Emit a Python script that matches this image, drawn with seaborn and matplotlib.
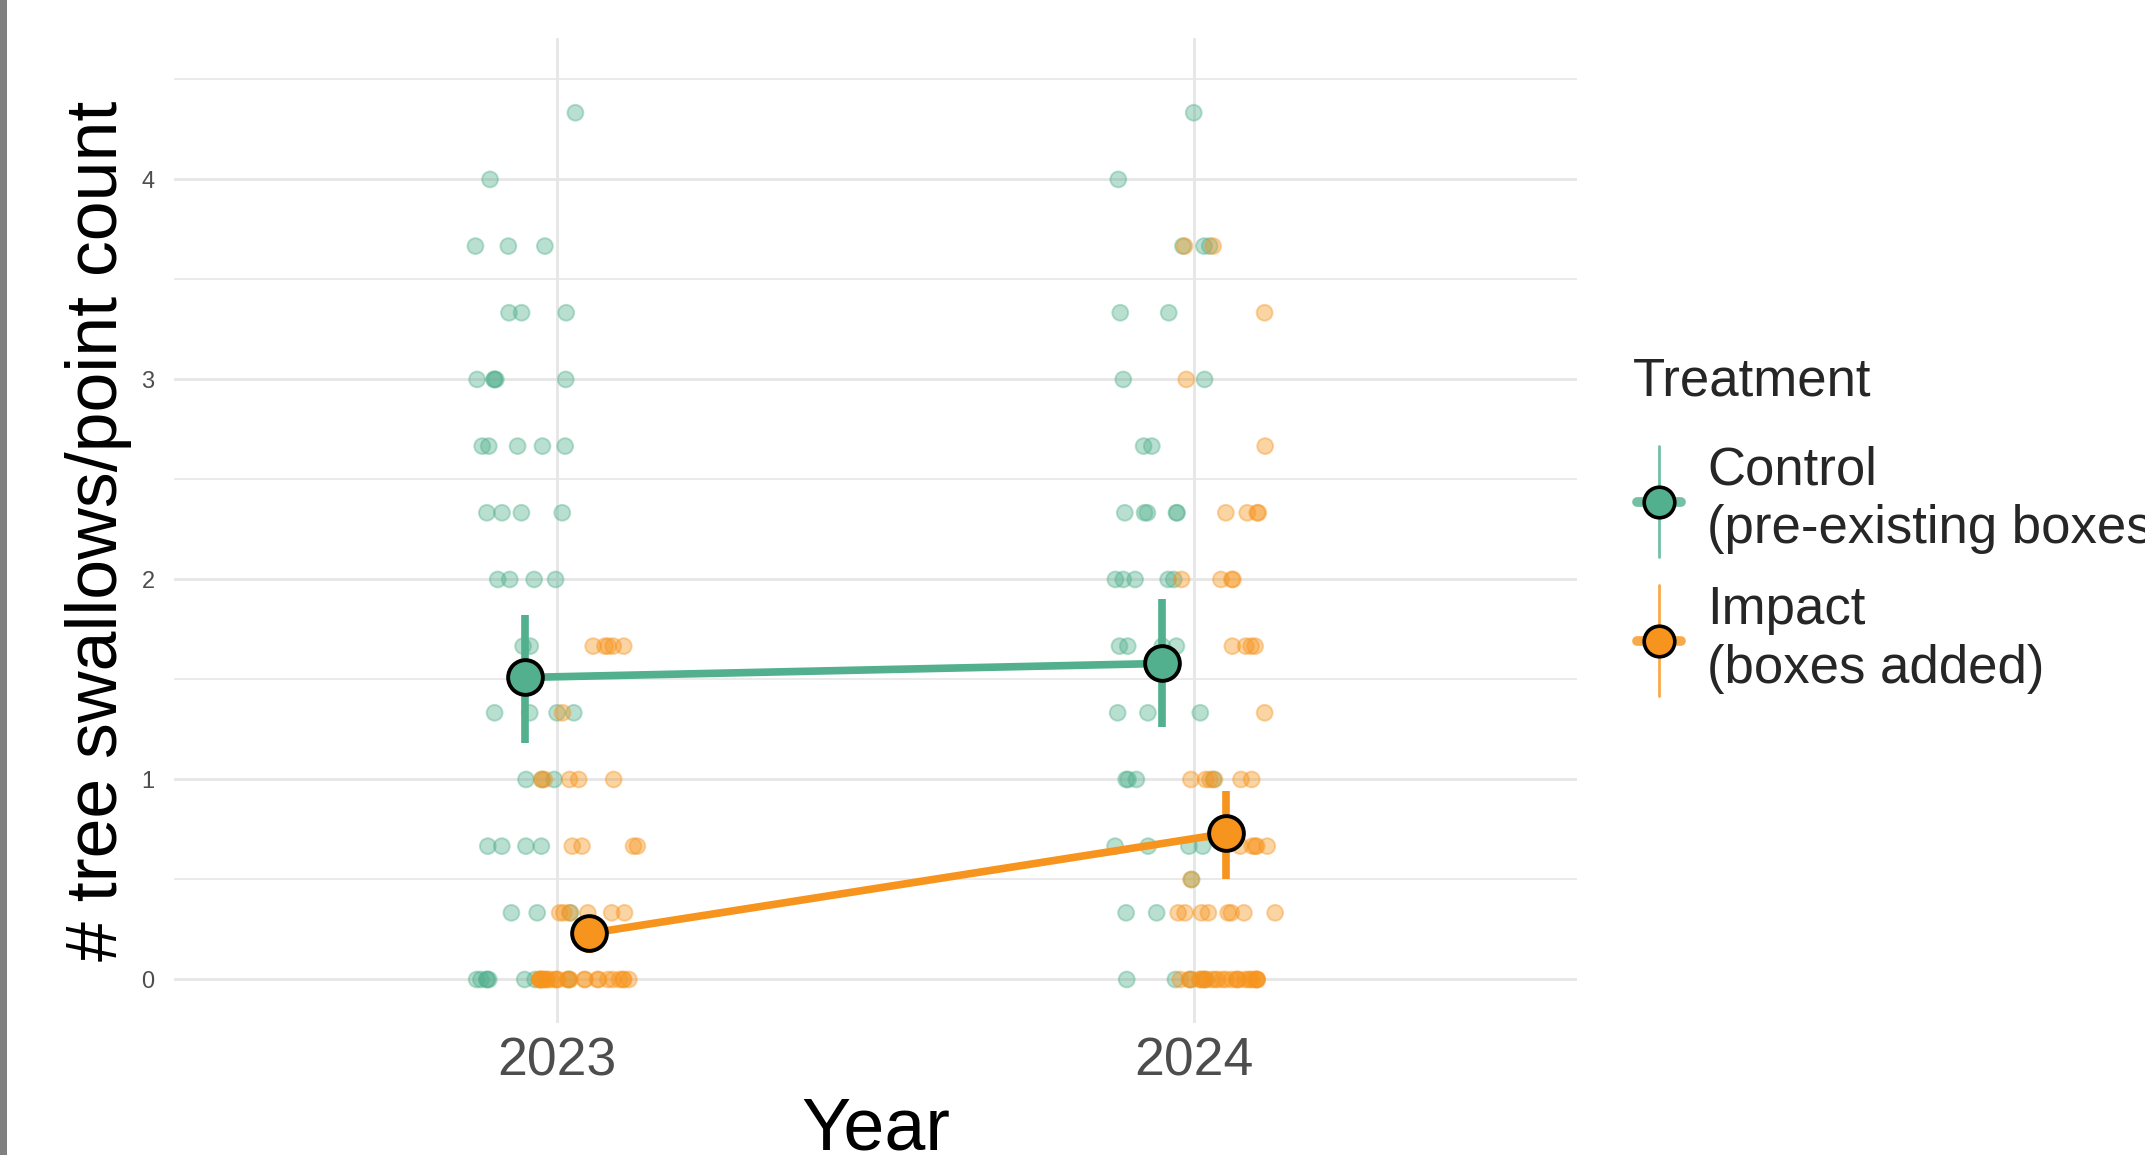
import numpy as np
import pandas as pd
import matplotlib
matplotlib.use("Agg")
import matplotlib.pyplot as plt
import seaborn as sns
from matplotlib.legend_handler import HandlerBase
from matplotlib.lines import Line2D
from matplotlib.patches import Rectangle
from matplotlib.ticker import MultipleLocator

# ---------------------------------------------------------------- data
years = ["2023", "2024"]
treatments = ["Control", "Impact"]
treatment_labels = ["Control\n(pre-existing boxes)", "Impact\n(boxes added)"]
palette = {"Control": "#52B08E", "Impact": "#F7941D"}

# swallows per point count (averaged over repeat visits)
count_levels = [0, 1/3, 1/2, 2/3, 1, 4/3, 5/3, 2, 7/3, 8/3, 3, 10/3, 11/3, 4, 13/3]
# number of survey points observed at each level
control_2023 = [8, 3, 0, 4, 3, 4, 2, 4, 4, 5, 5, 3, 3, 1, 1]
impact_2023 = [25, 6, 0, 4, 5, 1, 5, 0, 0, 0, 0, 0, 0, 0, 0]
control_2024 = [4, 2, 1, 4, 4, 3, 4, 5, 5, 2, 2, 2, 3, 1, 1]
impact_2024 = [25, 8, 1, 5, 6, 1, 4, 4, 4, 1, 1, 1, 2, 0, 0]

# model estimates with 95% intervals
est_year = ["2023", "2024", "2023", "2024"]
est_treatment = ["Control", "Control", "Impact", "Impact"]
est_mean = [1.51, 1.58, 0.23, 0.73]
est_low = [1.18, 1.26, 0.13, 0.50]
est_high = [1.82, 1.90, 0.31, 0.94]

# ---------------------------------------------------------------- tables
year_pos = {y: i for i, y in enumerate(years)}
dodge = {"Control": -0.05, "Impact": 0.05}

groups = {
    ("2023", "Control"): control_2023,
    ("2023", "Impact"): impact_2023,
    ("2024", "Control"): control_2024,
    ("2024", "Impact"): impact_2024,
}
frames = []
for (yr, tr), counts in groups.items():
    vals = np.repeat(count_levels, counts)
    frames.append(pd.DataFrame({"Year": yr, "Treatment": tr, "Swallows": vals}))
points = pd.concat(frames, ignore_index=True)

rng = np.random.default_rng(11)
points["xpos"] = (points["Year"].map(year_pos) + points["Treatment"].map(dodge)
                  + rng.uniform(-0.08, 0.08, len(points)))

est = pd.DataFrame({"Year": est_year, "Treatment": est_treatment,
                    "mean": est_mean, "low": est_low, "high": est_high})
est["xpos"] = est["Year"].map(year_pos) + est["Treatment"].map(dodge)

# ---------------------------------------------------------------- style
sns.set_theme(style="white")
plt.rcParams["font.family"] = ["Liberation Sans", "DejaVu Sans"]

W, H = 2145, 1155
fig = plt.figure(figsize=(W / 100, H / 100), dpi=100)
fig.patch.set_facecolor("white")
ax = fig.add_axes([174 / W, 132 / H, (1577 - 174) / W, (1117 - 132) / H])

grid_col = "#E6E6E6"
ax.set_axisbelow(True)
ax.yaxis.set_minor_locator(MultipleLocator(0.5))
ax.grid(which="major", axis="both", color=grid_col, linewidth=2.0)
ax.grid(which="minor", axis="y", color=grid_col, linewidth=1.2)
for s in ax.spines.values():
    s.set_visible(False)

# raw point counts
sns.scatterplot(data=points, x="xpos", y="Swallows", hue="Treatment",
                hue_order=treatments, palette=palette, s=130, alpha=0.4,
                edgecolor="face", linewidth=1.4, legend=False, ax=ax, zorder=2)

# interval bars
for _, r in est.iterrows():
    ax.vlines(r["xpos"], r["low"], r["high"], colors=palette[r["Treatment"]],
              linewidth=5.5, zorder=3)

# estimates joined across years
sns.lineplot(data=est, x="xpos", y="mean", hue="Treatment", hue_order=treatments,
             palette=palette, linewidth=5.5, marker="o", markersize=25,
             markeredgecolor="black", markeredgewidth=2.8, errorbar=None,
             sort=False, legend=False, ax=ax, zorder=4)

ax.set_xlim(-0.6, 1.6)
ax.set_ylim(-0.2175, 4.707)
ax.set_xticks(range(len(years)))
ax.set_xticklabels(years)
ax.set_yticks([0, 1, 2, 3, 4])
ax.set_yticklabels(["0", "1", "2", "3", "4"])
ax.tick_params(axis="x", length=0, pad=10, labelsize=38.5, labelcolor="#4D4D4D")
ax.tick_params(axis="y", length=0, pad=14, labelsize=17, labelcolor="#4D4D4D")
ax.set_xlabel("Year", fontsize=53, color="black", labelpad=6)
ax.set_ylabel("# tree swallows/point count", fontsize=51.6, color="black", labelpad=7)


class ErrorbarPointHandler(HandlerBase):
    """Legend key: thin vertical interval, short horizontal stroke and dot."""

    def create_artists(self, legend, orig_handle, xdescent, ydescent,
                       width, height, fontsize, trans):
        color = orig_handle.get_color()
        cx = 0.5 * width - xdescent
        cy = 0.5 * height - ydescent
        half_v, half_h = 40, 16
        vline = Line2D([cx, cx], [cy - half_v, cy + half_v], color=color,
                       alpha=0.8, linewidth=2.0, transform=trans)
        stub = Line2D([cx - half_h, cx + half_h], [cy, cy], color=color,
                      alpha=0.8, linewidth=7, transform=trans)
        dot = Line2D([cx], [cy], marker="o", markersize=22, markerfacecolor=color,
                     markeredgecolor="black", markeredgewidth=2.6,
                     linestyle="none", transform=trans)
        return [vline, stub, dot]


proxies = [Line2D([], [], color=palette[t]) for t in treatments]
leg = ax.legend(handles=proxies, labels=treatment_labels, title="Treatment",
                loc="upper left", bbox_to_anchor=(1633 / W, 1 - 357 / H),
                bbox_transform=fig.transFigure, frameon=False,
                fontsize=38, title_fontsize=38, handlelength=0.98,
                handleheight=1.0, handletextpad=0.42, labelspacing=0.58,
                borderpad=0, borderaxespad=0, alignment="left",
                handler_map={Line2D: ErrorbarPointHandler()})
leg._legend_box.sep = 28
for t in leg.get_texts():
    t.set_linespacing(1.22)

# grey strip along the left edge
fig.patches.append(Rectangle((0, 0), 7 / W, 1, transform=fig.transFigure,
                             facecolor="#808080", edgecolor="none", zorder=10))

fig.savefig("out.png", dpi=100)
